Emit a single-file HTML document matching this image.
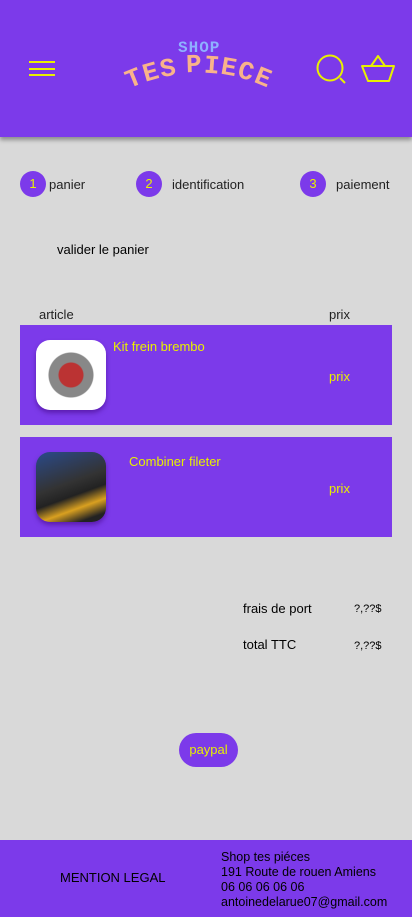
<!DOCTYPE html>
<html><head><meta charset="utf-8"><style>
*{margin:0;padding:0;box-sizing:border-box}
body{width:412px;height:917px;background:#d9d9d9;font-family:"Liberation Sans",sans-serif;position:relative;overflow:hidden;color:#222}
.abs{position:absolute}
.purple{background:#7c3aea}
.yel{color:#e8f000}
.step{width:26px;height:26px;border-radius:50%;background:#7c3aea;color:#e8f000;font-size:13px;text-align:center;line-height:26px}
.t13{font-size:13px}
.card{left:20px;width:372px;height:100px}
.img{width:70px;height:70px;border-radius:14px;box-shadow:0 3px 5px rgba(60,0,120,.5)}
.lg{position:absolute;color:#f9b38a;font:bold 26px 'Liberation Mono',monospace}
</style></head><body>
<div class="abs purple" style="left:0;top:0;width:412px;height:137px;box-shadow:0 3px 4px rgba(0,0,0,.35)"></div>
<div class="abs" style="left:29px;top:61px;width:26px;height:15px;border-top:2px solid #e8f000;border-bottom:2px solid #e8f000"><div style="margin-top:4.5px;height:2px;background:#e8f000"></div></div>
<div class="abs" style="left:120px;top:36px;width:175px;height:60px">
<div style="position:absolute;left:58px;top:3px;color:#8fb0ff;font:bold 16px 'Liberation Mono',monospace;letter-spacing:1px">SHOP</div>
<span class="lg" style="left:6px;top:28px;transform:rotate(-22deg)">T</span>
<span class="lg" style="left:23px;top:22px;transform:rotate(-16deg)">E</span>
<span class="lg" style="left:40px;top:18px;transform:rotate(-10deg)">S</span>
<span class="lg" style="left:66px;top:14px;transform:rotate(-2deg)">P</span>
<span class="lg" style="left:84px;top:15px;transform:rotate(4deg)">I</span>
<span class="lg" style="left:101px;top:17px;transform:rotate(10deg)">E</span>
<span class="lg" style="left:118px;top:21px;transform:rotate(16deg)">C</span>
<span class="lg" style="left:135px;top:27px;transform:rotate(22deg)">E</span>
</div>
<svg class="abs" style="left:316px;top:54px" width="32" height="32"><circle cx="14" cy="14" r="12.5" fill="none" stroke="#e8f000" stroke-width="2"/><line x1="24" y1="24" x2="29" y2="29" stroke="#e8f000" stroke-width="2"/></svg>
<svg class="abs" style="left:360px;top:54px" width="36" height="30"><path d="M2 12 H34 L29 27 H8 Z M11 12 L18 2 L25 12" fill="none" stroke="#e8f000" stroke-width="2" stroke-linejoin="round"/></svg>

<div class="abs step" style="left:20px;top:171px">1</div>
<div class="abs t13" style="left:49px;top:177px">panier</div>
<div class="abs step" style="left:136px;top:171px">2</div>
<div class="abs t13" style="left:172px;top:177px">identification</div>
<div class="abs step" style="left:300px;top:171px">3</div>
<div class="abs t13" style="left:336px;top:177px">paiement</div>

<div class="abs t13" style="left:57px;top:242px;color:#000">valider le panier</div>
<div class="abs t13" style="left:39px;top:307px">article</div>
<div class="abs t13" style="left:329px;top:307px">prix</div>

<div class="abs card purple" style="top:325px"></div>
<div class="abs img" style="left:36px;top:340px;background:radial-gradient(circle at 50% 50%,#b33 0 12px,#888 13px 22px,#fff 23px)"></div>
<div class="abs yel t13" style="left:113px;top:339px">Kit frein brembo</div>
<div class="abs yel t13" style="left:329px;top:369px">prix</div>

<div class="abs card purple" style="top:437px"></div>
<div class="abs img" style="left:36px;top:452px;background:linear-gradient(160deg,#2a4a8a 0,#333 45%,#222 60%,#d9a020 75%,#222 90%)"></div>
<div class="abs yel t13" style="left:129px;top:454px">Combiner fileter</div>
<div class="abs yel t13" style="left:329px;top:481px">prix</div>

<div class="abs t13" style="left:243px;top:601px;color:#000">frais de port</div>
<div class="abs" style="left:354px;top:603px;font-size:11px;color:#000">?,??$</div>
<div class="abs t13" style="left:243px;top:637px;color:#000">total TTC</div>
<div class="abs" style="left:354px;top:640px;font-size:11px;color:#000">?,??$</div>

<div class="abs purple yel t13" style="left:179px;top:733px;width:59px;height:34px;border-radius:17px;text-align:center;line-height:34px">paypal</div>

<div class="abs purple" style="left:0;top:840px;width:412px;height:77px"></div>
<div class="abs t13" style="left:60px;top:870px;color:#000">MENTION LEGAL</div>
<div class="abs" style="left:221px;top:850px;font-size:12.5px;line-height:15px;color:#000">Shop tes piéces<br>191 Route de rouen Amiens<br>06 06 06 06 06<br>antoinedelarue07@gmail.com</div>
</body></html>
